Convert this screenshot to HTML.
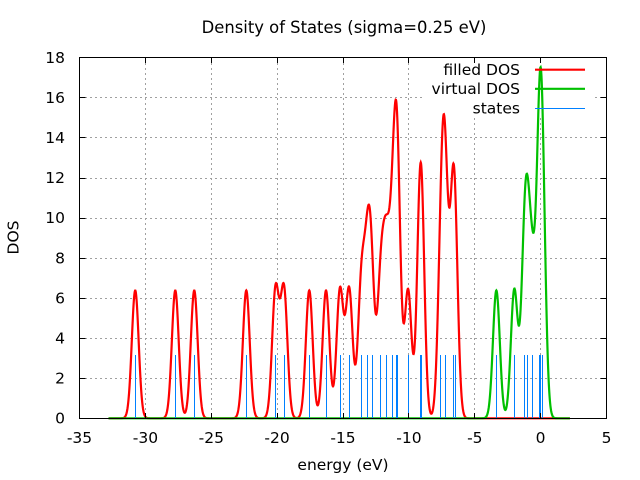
<!DOCTYPE html>
<html><head><meta charset="utf-8"><style>
html,body{margin:0;padding:0;background:#fff;}
svg{display:block;}
text{font-family:"DejaVu Sans","Liberation Sans",sans-serif;font-size:15.5px;fill:#000;}
</style></head><body>
<svg id="s" width="640" height="480" viewBox="0 0 640 480" xmlns="http://www.w3.org/2000/svg">
<rect width="640" height="480" fill="#fff"/>
<g stroke="#a0a0a0" stroke-width="1" stroke-dasharray="2,3" fill="none">
<line x1="145.5" y1="58" x2="145.5" y2="418"/>
<line x1="211.5" y1="58" x2="211.5" y2="418"/>
<line x1="277.5" y1="58" x2="277.5" y2="418"/>
<line x1="343.5" y1="58" x2="343.5" y2="418"/>
<line x1="408.5" y1="58" x2="408.5" y2="418"/>
<line x1="474.5" y1="58" x2="474.5" y2="418"/>
<line x1="540.5" y1="58" x2="540.5" y2="418"/>
<line x1="80" y1="378.5" x2="606" y2="378.5"/>
<line x1="80" y1="338.5" x2="606" y2="338.5"/>
<line x1="80" y1="298.5" x2="606" y2="298.5"/>
<line x1="80" y1="258.5" x2="606" y2="258.5"/>
<line x1="80" y1="218.5" x2="606" y2="218.5"/>
<line x1="80" y1="178.5" x2="606" y2="178.5"/>
<line x1="80" y1="137.5" x2="606" y2="137.5"/>
<line x1="80" y1="97.5" x2="606" y2="97.5"/>
</g>
<rect x="425" y="58" width="170" height="57" fill="#fff"/>
<path id="red" fill="none" stroke="#ff0000" stroke-width="2.2" stroke-linejoin="miter"/>
<path id="green" fill="none" stroke="#00c000" stroke-width="2.2" stroke-linejoin="miter"/>
<g id="states" stroke="#0080ff" stroke-width="1"></g>

<!-- legend -->
<text x="520" y="75" text-anchor="end">filled DOS</text>
<text x="520" y="94.2" text-anchor="end">virtual DOS</text>
<text x="520" y="113.6" text-anchor="end">states</text>
<line x1="535" y1="69.7" x2="585" y2="69.7" stroke="#ff0000" stroke-width="2.2"/>
<line x1="535" y1="88.8" x2="585" y2="88.8" stroke="#00c000" stroke-width="2.2"/>
<line x1="535" y1="108.5" x2="585" y2="108.5" stroke="#0080ff" stroke-width="1"/>

<!-- border -->
<rect x="79.5" y="57.5" width="527" height="361" fill="none" stroke="#000" stroke-width="1"/>
<g id="ticks" stroke="#000" stroke-width="1"></g>

<!-- y tick labels -->
<g text-anchor="end">
<text x="65" y="423.3">0</text>
<text x="65" y="383.3">2</text>
<text x="65" y="343.3">4</text>
<text x="65" y="303.3">6</text>
<text x="65" y="263.3">8</text>
<text x="65" y="223.2">10</text>
<text x="65" y="183.1">12</text>
<text x="65" y="143">14</text>
<text x="65" y="102.9">16</text>
<text x="65" y="62.8">18</text>
</g>
<!-- x tick labels -->
<g text-anchor="middle">
<text x="79.5" y="443">-35</text>
<text x="145.4" y="443">-30</text>
<text x="211.3" y="443">-25</text>
<text x="277.1" y="443">-20</text>
<text x="343" y="443">-15</text>
<text x="408.9" y="443">-10</text>
<text x="474.8" y="443">-5</text>
<text x="540.6" y="443">0</text>
<text x="606.5" y="443">5</text>
</g>
<text x="343" y="470" text-anchor="middle">energy (eV)</text>
<text transform="translate(18.3,237.5) rotate(-90)" text-anchor="middle">DOS</text>
<text x="344" y="33" text-anchor="middle" style="font-size:16.4px">Density of States (sigma=0.25 eV)</text>
</svg>
<script>
(function(){
var NS="http://www.w3.org/2000/svg";
function X(e){return 79.5+(e+35)*13.175;}
function Y(d){return 418.3-d*20.04;}
var sig=0.26, A=6.38, tw=2*sig*sig;
var filled=[[-30.77,1],[-27.73,1],[-26.29,1],[-22.34,1],[-20.12,1],[-19.48,1],[-17.56,1],[-16.29,1],[-15.23,1],[-14.53,1],[-13.61,1],[-13.16,0.88],[-12.86,1],[-12.14,1],[-11.71,1.1],[-11.26,1],[-10.90,2],[-10.06,1],[-9.10,2],[-7.56,1],[-7.27,1.7],[-6.66,1],[-6.52,1]];
var virt=[[-3.36,1],[-2.0,1],[-1.24,0.95],[-1.01,0.95],[-0.63,0.9],[-0.10,0.98],[-0.02,0.98],[0.16,0.98]];
function dos(list,e){var s=0;for(var i=0;i<list.length;i++){var d=e-list[i][0];s+=list[i][1]*Math.exp(-d*d/tw);}return A*s;}
function path(list){
  var p=[];var e0=-32.8,e1=2.23,st=0.02;
  for(var e=e0;e<=e1+1e-9;e+=st){p.push((p.length?"L":"M")+X(e).toFixed(2)+" "+Y(dos(list,e)).toFixed(2));}
  return p.join("");
}
document.getElementById("red").setAttribute("d",path(filled));
document.getElementById("green").setAttribute("d",path(virt));
var st=[-30.77,-27.73,-26.29,-22.34,-20.14,-19.46,-17.56,-16.27,-15.22,-14.52,-13.61,-13.16,-12.78,-12.17,-11.71,-11.26,-10.93,-10.87,-10.04,-9.12,-9.06,-7.61,-7.23,-6.63,-6.48,-3.36,-2.0,-1.24,-1.01,-0.63,-0.10,-0.02,0.16];
var g=document.getElementById("states");
for(var i=0;i<st.length;i++){
  var x=Math.round(X(st[i])-0.5)+0.5;
  var l=document.createElementNS(NS,"line");
  l.setAttribute("x1",x);l.setAttribute("x2",x);
  l.setAttribute("y1",418.3);l.setAttribute("y2",Y(3.16));
  g.appendChild(l);
}
var t=document.getElementById("ticks");
function ln(x1,y1,x2,y2){var l=document.createElementNS(NS,"line");l.setAttribute("x1",x1);l.setAttribute("y1",y1);l.setAttribute("x2",x2);l.setAttribute("y2",y2);t.appendChild(l);}
var ys=[418.5,378.5,338.5,298.5,258.5,218.5,178.5,137.5,97.5,57.5];
for(var i=0;i<ys.length;i++){ln(79.5,ys[i],85.5,ys[i]);ln(606.5,ys[i],600.5,ys[i]);}
var xs=[79.5,145.5,211.5,277.5,343.5,408.5,474.5,540.5,606.5];
for(var i=0;i<xs.length;i++){ln(xs[i],418.5,xs[i],413);ln(xs[i],57.5,xs[i],63);}
})();
</script>
</body></html>
